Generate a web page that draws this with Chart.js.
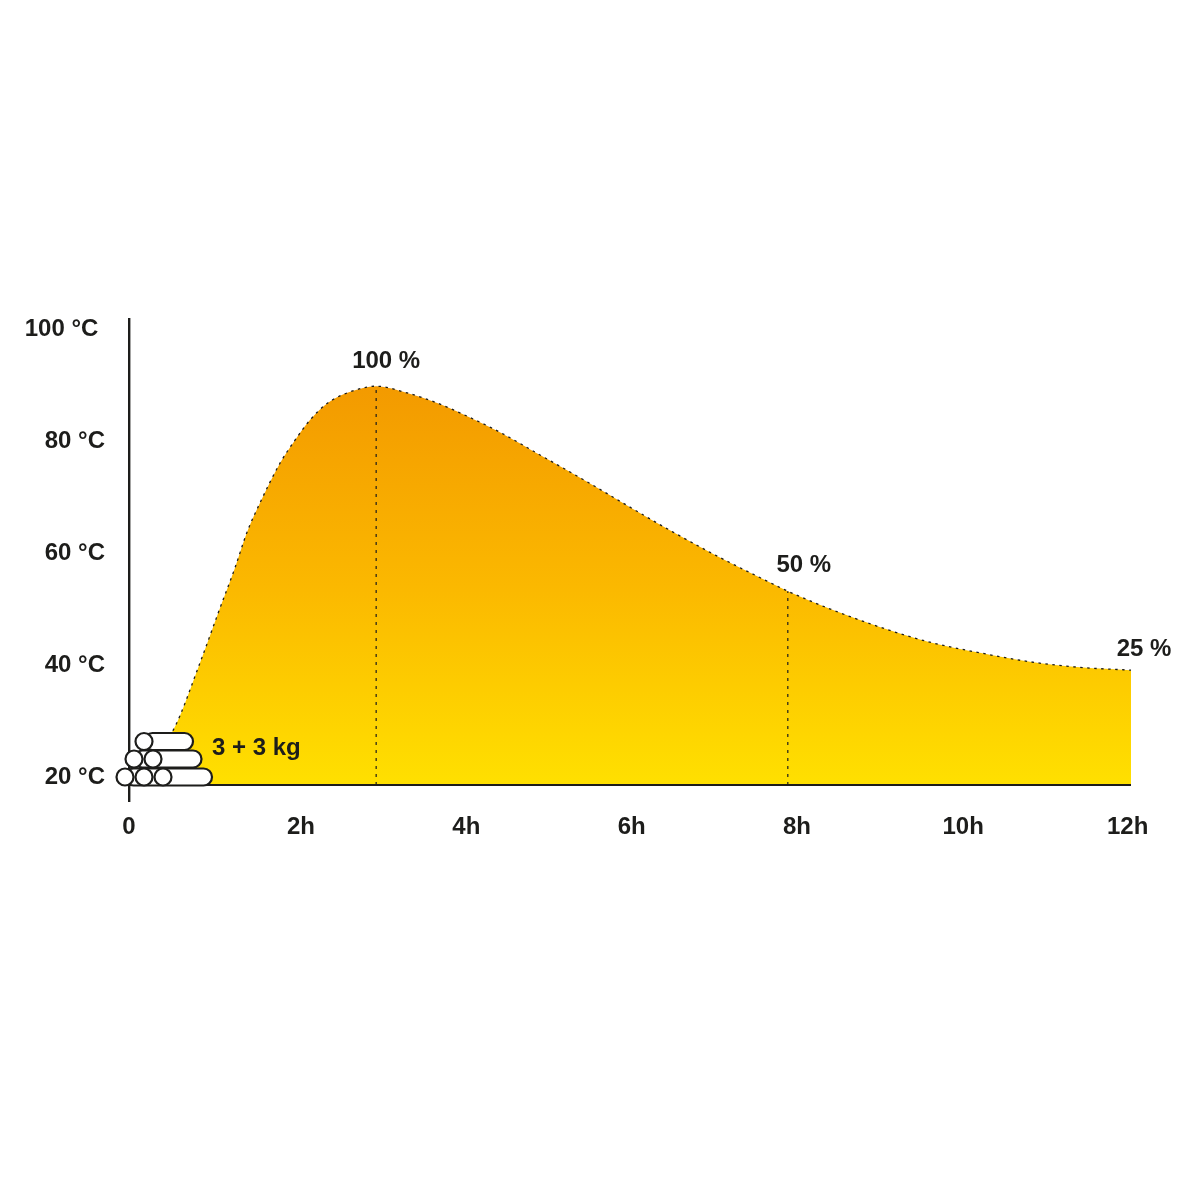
<!DOCTYPE html>
<html>
<head>
<meta charset="utf-8">
<title>Heat curve</title>
<script src="https://cdn.jsdelivr.net/npm/chart.js@4/dist/chart.umd.min.js"></script>
<style>
  html, body { margin: 0; padding: 0; background: #fff; }
  #wrap { width: 1200px; height: 1200px; }
</style>
</head>
<body>
<div id="wrap"><canvas id="heat-chart"></canvas></div>
<script>
// values
const curveHours = [0, 0.53, 0.85, 1.09, 1.27, 1.41, 1.57, 1.81, 1.99, 2.17, 2.38, 2.65, 2.96, 3.33, 3.69, 4.17, 4.44, 4.96, 5.49, 6.0, 6.51, 7.04, 7.56, 7.89, 8.4, 8.99, 9.59, 10.19, 10.79, 11.39, 12];
const curveTemps = [20, 29.8, 41.8, 51.6, 58.8, 65, 70.4, 77.5, 81.6, 85.2, 88.2, 90.2, 91.2, 90, 88.2, 85, 83, 78.6, 74.1, 69.6, 65.2, 60.9, 57, 54.6, 51.4, 48.2, 45.5, 43.6, 42, 41, 40.5];
const markerHours = [2.96, 7.89, 12];
const markerTemps = [91.2, 54.6, 40.5];
const markerLabels = ['100 %', '50 %', '25 %'];
const xTickLabels = ['0', '2h', '4h', '6h', '8h', '10h', '12h'];
const xTickHours = [0, 2.06, 4.04, 6.02, 8, 9.99, 11.96];
const yTickLabels = ['20 °C', '40 °C', '60 °C', '80 °C', '100 °C'];
const yTickTemps = [20, 40, 60, 80, 100];
const loadLabel = '3 + 3 kg';

const INK = '#1d1d1b';
const FONT = 'bold 24px "Liberation Sans"';

function heatGradient(context) {
  const chart = context.chart;
  if (!chart.chartArea) return '#fbb900';
  const y = chart.scales.y;
  const g = chart.ctx.createLinearGradient(0, y.getPixelForValue(91.2), 0, y.getPixelForValue(20));
  g.addColorStop(0, '#f39a00');
  g.addColorStop(0.5, '#fbb800');
  g.addColorStop(1, '#ffe000');
  return g;
}

// percent labels above the curve and the little log pile at the origin
const extras = {
  id: 'extras',
  afterDatasetsDraw(chart) {
    const { ctx, scales } = chart;
    const x0 = scales.x.getPixelForValue(0);
    const y0 = scales.y.getPixelForValue(20);

    ctx.save();
    ctx.fillStyle = INK;
    ctx.font = FONT;
    ctx.textAlign = 'center';
    ctx.textBaseline = 'middle';
    const offsets = [[10, -25], [16, -26], [13, -21]];
    markerLabels.forEach((t, i) => {
      ctx.fillText(t,
        scales.x.getPixelForValue(markerHours[i]) + offsets[i][0],
        scales.y.getPixelForValue(markerTemps[i]) + offsets[i][1]);
    });
    ctx.textAlign = 'left';
    ctx.fillText(loadLabel, x0 + 83, y0 - 37);

    // rows of logs, bottom to top: end circles and right end of the body
    const rows = [
      { cy: -8, cx: [-4, 15, 34], right: 83 },
      { cy: -26, cx: [5, 24], right: 72.5 },
      { cy: -43.5, cx: [15], right: 64 }
    ];
    const r = 8.5;
    ctx.lineWidth = 2.2;
    ctx.strokeStyle = INK;
    ctx.fillStyle = '#fff';
    rows.forEach(row => {
      const left = x0 + row.cx[0];
      const cy = y0 + row.cy;
      ctx.beginPath();
      ctx.roundRect(left, cy - r, x0 + row.right - left, r * 2, r);
      ctx.fill();
      ctx.stroke();
      row.cx.forEach(cx => {
        ctx.beginPath();
        ctx.arc(x0 + cx, cy, r, 0, Math.PI * 2);
        ctx.fill();
        ctx.stroke();
      });
    });
    ctx.restore();
  }
};

const dropLine = i => ({
  data: [{ x: markerHours[i], y: 20 }, { x: markerHours[i], y: markerTemps[i] }],
  borderColor: INK,
  borderWidth: 1.2,
  borderDash: [3, 5],
  pointRadius: 0,
  fill: false
});

new Chart(document.getElementById('heat-chart'), {
  type: 'line',
  data: {
    datasets: [
      dropLine(0),
      dropLine(1),
      {
        data: [{ x: 0, y: 20 }, { x: 12, y: 20 }],
        borderColor: INK,
        borderWidth: 2.2,
        pointRadius: 0,
        fill: false
      },
      {
        data: curveHours.map((h, i) => ({ x: h, y: curveTemps[i] })),
        borderColor: INK,
        borderWidth: 1.3,
        borderDash: [2.5, 4.5],
        backgroundColor: heatGradient,
        cubicInterpolationMode: 'monotone',
        pointRadius: 0,
        fill: { target: { value: 20 } }
      }
    ]
  },
  plugins: [extras],
  options: {
    responsive: true,
    maintainAspectRatio: false,
    animation: false,
    layout: { padding: { top: 319, right: 69, left: 0, bottom: 0 } },
    plugins: { legend: { display: false }, tooltip: { enabled: false } },
    scales: {
      x: {
        type: 'linear',
        min: 0,
        max: 12,
        grid: { display: false, drawTicks: false },
        border: { display: false },
        afterBuildTicks: s => { s.ticks = xTickHours.map(v => ({ value: v })); },
        afterFit: s => { s.height = 399; },
        ticks: {
          autoSkip: false,
          maxRotation: 0,
          padding: 12,
          color: INK,
          font: { family: 'Liberation Sans', size: 24, weight: 'bold' },
          callback: (v, i) => xTickLabels[i]
        }
      },
      y: {
        min: 17.14,
        max: 103.2,
        grid: { display: false, drawTicks: false },
        border: { display: true, color: INK, width: 2.4 },
        afterBuildTicks: s => { s.ticks = yTickTemps.map(v => ({ value: v })); },
        afterFit: s => { s.width = 129; },
        ticks: {
          autoSkip: false,
          padding: 24,
          labelOffset: -8,
          color: INK,
          font: { family: 'Liberation Sans', size: 24, weight: 'bold' },
          // the top label sits a little further left in the original
          callback: (v, i) => yTickLabels[i] + (i === 4 ? '\u00a0' : '')
        }
      }
    }
  }
});
</script>
</body>
</html>
